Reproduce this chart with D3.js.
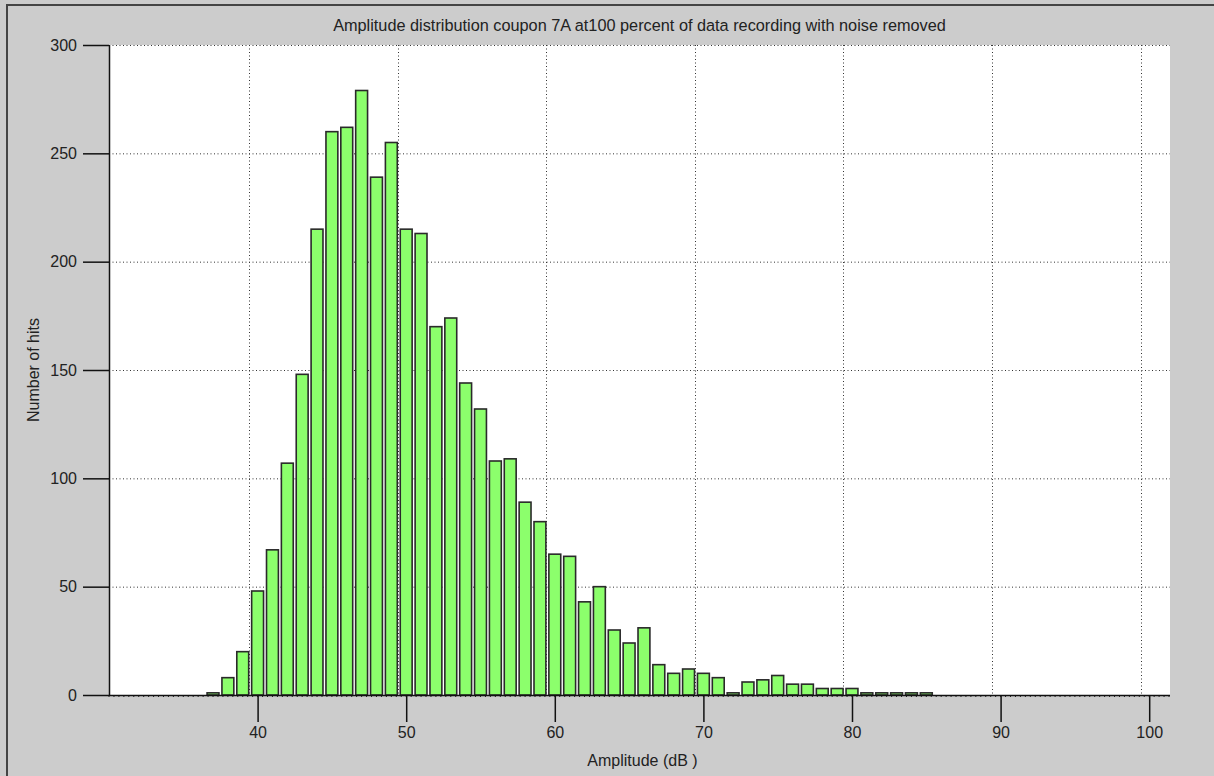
<!DOCTYPE html>
<html>
<head>
<meta charset="utf-8">
<script src="https://cdn.jsdelivr.net/npm/d3@7"></script>
<style>
  html, body { margin: 0; padding: 0; background: #cccccc; }
  svg { display: block; }
  text { font-family: "Liberation Sans", Arial, sans-serif; fill: #222; }
</style>
</head>
<body>
<svg id="chart" width="1214" height="776"></svg>
<script>
// Amplitude bins (dB) and hit counts
const amplitudes = [37, 38, 39, 40, 41, 42, 43, 44, 45, 46, 47, 48, 49, 50, 51, 52, 53, 54, 55, 56,
  57, 58, 59, 60, 61, 62, 63, 64, 65, 66, 67, 68, 69, 70, 71, 72, 73, 74, 75, 76,
  77, 78, 79, 80, 81, 82, 83, 84, 85];
const hits = [1, 8, 20, 48, 67, 107, 148, 215, 260, 262, 279, 239, 255, 215, 213, 170, 174, 144, 132, 108,
  109, 89, 80, 65, 64, 43, 50, 30, 24, 31, 14, 10, 12, 10, 8, 1, 6, 7, 9, 5,
  5, 3, 3, 3, 1, 1, 1, 1, 1];
const xTicks = [40, 50, 60, 70, 80, 90, 100];
const yTicks = [0, 50, 100, 150, 200, 250, 300];
const titleText = "Amplitude distribution coupon 7A at100 percent of data recording with noise removed";
const xLabel = "Amplitude (dB )";
const yLabel = "Number of hits";

const svg = d3.select("#chart");
const W = 1214, H = 776;
const plot = { left: 109, right: 1170, top: 45, bottom: 695 };

const x = d3.scaleLinear().domain([30, 101.4]).range([plot.left, plot.right]);
const y = d3.scaleLinear().domain([0, 300]).range([plot.bottom, plot.top]);

// panel background and outer frame
svg.append("rect").attr("x", 0).attr("y", 0).attr("width", W).attr("height", H).attr("fill", "#cccccc");
svg.append("path")
  .attr("d", `M7,${H} L7,5 L${W},5`)
  .attr("fill", "none").attr("stroke", "#444").attr("stroke-width", 2);

// plotting area
svg.append("rect")
  .attr("x", plot.left).attr("y", plot.top)
  .attr("width", plot.right - plot.left).attr("height", plot.bottom - plot.top)
  .attr("fill", "#ffffff");

// dotted grid (vertical lines sit a little left of their ticks)
const gridShift = -8.5;
const grid = svg.append("g").attr("stroke", "#333").attr("stroke-width", 1)
  .attr("stroke-dasharray", "1,2.5");
grid.selectAll("line.h").data(yTicks.filter(d => d > 0)).join("line")
  .attr("class", "h")
  .attr("x1", plot.left).attr("x2", plot.right)
  .attr("y1", d => y(d) + 0.5).attr("y2", d => y(d) + 0.5);
grid.selectAll("line.v").data(xTicks).join("line")
  .attr("class", "v")
  .attr("x1", d => Math.round(x(d) + gridShift) + 0.5).attr("x2", d => Math.round(x(d) + gridShift) + 0.5)
  .attr("y1", plot.top).attr("y2", plot.bottom);

// bars
const barW = x(0.8) - x(0);
svg.append("g").selectAll("rect").data(amplitudes).join("rect")
  .attr("x", (d) => x(d) - barW / 2)
  .attr("y", (d, i) => y(hits[i]))
  .attr("width", barW)
  .attr("height", (d, i) => y(0) - y(hits[i]))
  .attr("fill", "#8cff6c")
  .attr("stroke", "#2a2a2a")
  .attr("stroke-width", 1.6);

// minor ticks along the baseline
const minor = d3.range(30, 101.4, 1 / 3);
svg.append("g").selectAll("line").data(minor).join("line")
  .attr("x1", d => x(d)).attr("x2", d => x(d))
  .attr("y1", plot.bottom).attr("y2", plot.bottom + 2)
  .attr("stroke", "#222").attr("stroke-width", 1);

// axes
const xAxis = d3.axisBottom(x).tickValues(xTicks).tickSize(27).tickPadding(5).tickFormat(d3.format("d"));
const gx = svg.append("g").attr("transform", `translate(0,${plot.bottom})`).call(xAxis);
gx.select(".domain").attr("d", `M${plot.left},0.5H${plot.right}`).attr("stroke", "#111").attr("stroke-width", 1.5);
gx.selectAll(".tick line").attr("stroke", "#111").attr("stroke-width", 1.5);
gx.selectAll(".tick text").attr("font-size", 16).attr("fill", "#222")
  .attr("font-family", "'Liberation Sans', Arial, sans-serif");

const yAxis = d3.axisLeft(y).tickValues(yTicks).tickSize(26).tickPadding(6).tickFormat(d3.format("d"));
const gy = svg.append("g").attr("transform", `translate(${plot.left},0)`).call(yAxis);
gy.select(".domain").attr("d", `M0.5,${plot.top}V${plot.bottom}`).attr("stroke", "#111").attr("stroke-width", 1.5);
gy.selectAll(".tick line").attr("stroke", "#111").attr("stroke-width", 1.5);
gy.selectAll(".tick text").attr("font-size", 16).attr("fill", "#222")
  .attr("font-family", "'Liberation Sans', Arial, sans-serif");

// title and axis labels
svg.append("text")
  .attr("x", (plot.left + plot.right) / 2).attr("y", 31)
  .attr("text-anchor", "middle").attr("font-size", 16.3)
  .text(titleText);
svg.append("text")
  .attr("x", (plot.left + plot.right) / 2 + 3).attr("y", 766)
  .attr("text-anchor", "middle").attr("font-size", 16)
  .text(xLabel);
svg.append("text")
  .attr("transform", `translate(39,${(plot.top + plot.bottom) / 2}) rotate(-90)`)
  .attr("text-anchor", "middle").attr("font-size", 16)
  .text(yLabel);
</script>
</body>
</html>
